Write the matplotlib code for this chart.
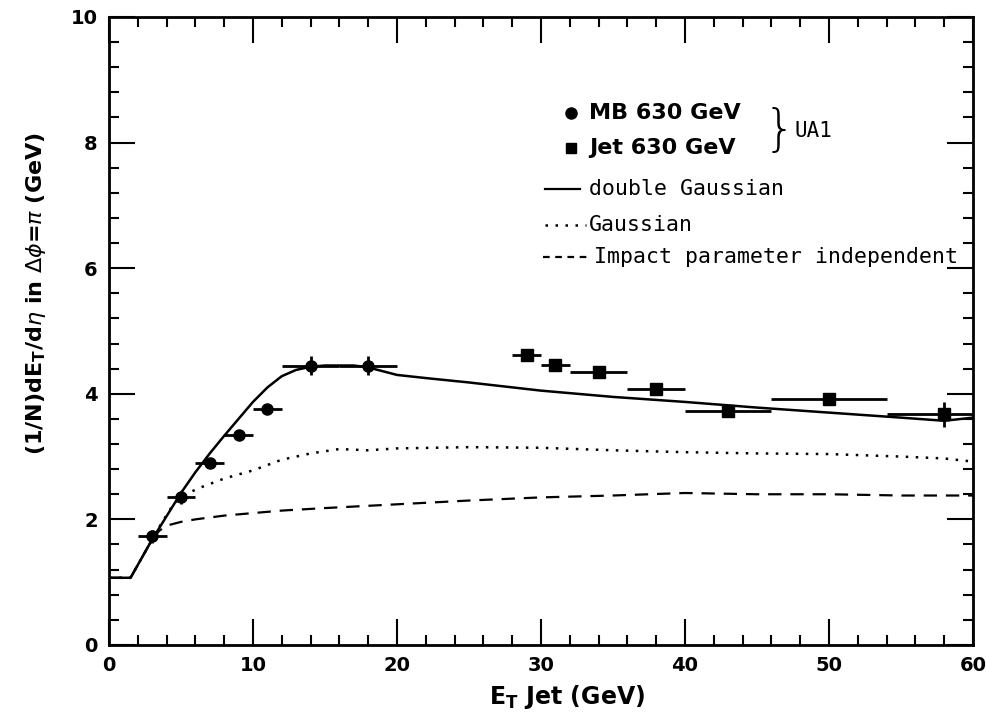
import numpy as np
import matplotlib
matplotlib.use("Agg")
import matplotlib.pyplot as plt
from matplotlib.ticker import MultipleLocator

# UA1 data
mb_x = [3, 5, 7, 9, 11, 14, 18]
mb_y = [1.73, 2.35, 2.9, 3.35, 3.75, 4.45, 4.45]
mb_xerr = [1, 1, 1, 1, 1, 2, 2]
mb_yerr = [0.1, 0.1, 0.08, 0.08, 0.08, 0.15, 0.15]

jet_x = [29, 31, 34, 38, 43, 50, 58]
jet_y = [4.62, 4.46, 4.35, 4.07, 3.72, 3.92, 3.67]
jet_xerr = [1, 1, 2, 2, 3, 4, 4]
jet_yerr = [0.05, 0.05, 0.05, 0.05, 0.08, 0.05, 0.2]

# model curves
dg_x = [0, 1.5, 3, 4, 5, 6, 7, 8, 9, 10, 11, 12, 13, 14, 15, 17, 18, 20, 22, 25, 30, 35, 40, 45, 50, 55, 58, 60]
dg_y = [1.07, 1.07, 1.68, 2.05, 2.42, 2.75, 3.05, 3.33, 3.6, 3.87, 4.1, 4.28, 4.38, 4.43, 4.45, 4.45, 4.42, 4.3, 4.25, 4.18, 4.05, 3.95, 3.87, 3.78, 3.7, 3.62, 3.57, 3.62]

g_x = [0, 1.5, 3, 3.6, 4.5, 5.5, 6.5, 8, 10, 12, 14, 16, 18, 20, 25, 30, 35, 40, 45, 50, 55, 58, 60]
g_y = [1.07, 1.07, 1.68, 1.92, 2.25, 2.42, 2.52, 2.65, 2.78, 2.95, 3.05, 3.12, 3.1, 3.13, 3.15, 3.14, 3.1, 3.07, 3.05, 3.04, 3.0, 2.97, 2.92]

d_x = [0, 1.5, 3, 3.5, 4, 5, 6, 8, 10, 12, 15, 20, 25, 30, 35, 40, 45, 50, 55, 60]
d_y = [1.07, 1.07, 1.68, 1.82, 1.9, 1.96, 2.0, 2.06, 2.1, 2.14, 2.18, 2.24, 2.3, 2.35, 2.38, 2.42, 2.4, 2.4, 2.38, 2.38]

fig = plt.figure(figsize=(9.86, 7.18), dpi=100)
ax = fig.add_axes([0.1105, 0.1017, 0.8763, 0.8747])

ax.plot(dg_x, dg_y, color="black", lw=1.8)
ax.plot(g_x, g_y, color="black", lw=1.8, linestyle=(0, (1, 3)))
ax.plot(d_x, d_y, color="black", lw=1.6, linestyle=(0, (6, 4)))

ax.errorbar(mb_x, mb_y, xerr=mb_xerr, yerr=mb_yerr, fmt="o", color="black",
            ms=8, elinewidth=2, capsize=0)
ax.errorbar(jet_x, jet_y, xerr=jet_xerr, yerr=jet_yerr, fmt="s", color="black",
            ms=8, elinewidth=2, capsize=0)

ax.set_xlim(0, 60)
ax.set_ylim(0, 10)
ax.xaxis.set_major_locator(MultipleLocator(10))
ax.xaxis.set_minor_locator(MultipleLocator(2))
ax.yaxis.set_major_locator(MultipleLocator(2))
ax.yaxis.set_minor_locator(MultipleLocator(0.4))
ax.tick_params(which="both", direction="in", top=True, right=True, width=1.5)
ax.tick_params(which="major", length=19, labelsize=14, pad=8)
ax.tick_params(which="minor", length=7)
for lab in ax.get_xticklabels() + ax.get_yticklabels():
    lab.set_fontweight("bold")
for s in ax.spines.values():
    s.set_linewidth(2)

ax.set_xlabel(r"E$_\mathbf{T}$ Jet (GeV)", fontsize=17, fontweight="bold", labelpad=2)
ax.xaxis.set_label_coords(0.53, -0.06)
ax.set_ylabel(r"(1/N)dE$_\mathbf{T}$/d$\eta$ in $\Delta\phi$=$\pi$ (GeV)", fontsize=16,
              fontweight="bold", labelpad=8)
ax.yaxis.set_label_coords(-0.07, 0.56)

# legend drawn by hand
tr = ax.transAxes
ax.plot([0.535], [0.847], "o", color="black", ms=8, transform=tr)
ax.text(0.556, 0.847, "MB 630 GeV", transform=tr, fontsize=16, fontweight="bold", va="center")
ax.plot([0.535], [0.791], "s", color="black", ms=7, transform=tr)
ax.text(0.556, 0.791, "Jet 630 GeV", transform=tr, fontsize=16, fontweight="bold", va="center")
ax.text(0.758, 0.818, "}", transform=tr, fontsize=36, va="center", fontweight="light")
ax.text(0.793, 0.818, "UA1", transform=tr, fontsize=15, va="center", family="DejaVu Sans Mono")

mono = dict(transform=tr, fontsize=15.5, va="center", family="DejaVu Sans Mono")
ax.plot([0.505, 0.545], [0.726, 0.726], color="black", lw=1.6, transform=tr)
ax.text(0.556, 0.726, "double Gaussian", **mono)
ax.plot([0.505, 0.552], [0.669, 0.669], color="black", lw=1.8, linestyle=(0, (1, 3)), transform=tr)
ax.text(0.556, 0.669, "Gaussian", **mono)
ax.plot([0.502, 0.554], [0.618, 0.618], color="black", lw=1.6, linestyle=(0, (3, 2.5)), transform=tr)
ax.text(0.561, 0.618, "Impact parameter independent", **mono)

fig.savefig("out.png", dpi=100)
